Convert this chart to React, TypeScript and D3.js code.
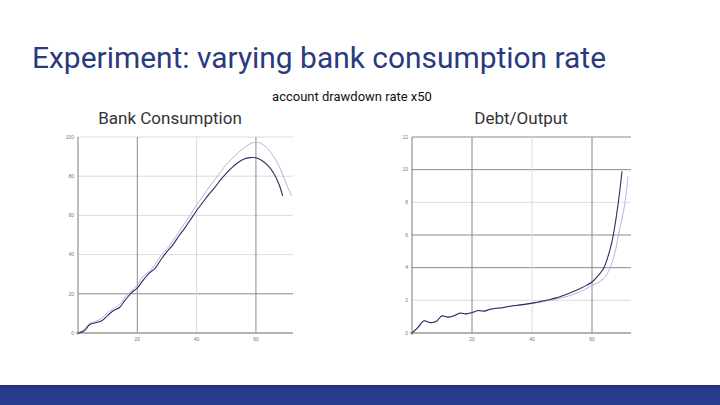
import * as d3 from "d3";
import React, { useEffect, useRef } from "react";

// Bank Consumption (left chart)
const bankStepsDark = [0, 2, 4, 6, 8, 10, 12, 14, 16, 18, 20, 22, 24, 26, 28, 30, 32, 34, 36, 38, 40, 42, 44, 46, 48, 50, 52, 54, 56, 58, 60, 62, 64, 66, 68, 69];
const bankDark = [0, 1, 4.3, 5.2, 6.2, 9, 11.5, 13, 17, 20.5, 23, 27, 30.5, 33, 37.5, 41.5, 45, 49.5, 53.5, 58, 62.5, 66.5, 70.5, 74, 78, 81.5, 84.5, 87, 88.8, 89.5, 89.4, 88, 85.5, 81.5, 75, 70];
const bankStepsLight = [0, 2, 4, 6, 8, 10, 12, 14, 16, 18, 20, 22, 24, 26, 28, 30, 32, 34, 36, 38, 40, 42, 44, 46, 48, 50, 52, 54, 56, 58, 60, 62, 64, 66, 68, 70, 72];
const bankLight = [0, 1.8, 5, 6, 7.5, 10.5, 12.5, 14.5, 18.5, 21.5, 24.5, 29, 31.5, 35, 39.5, 43, 47, 51.5, 56, 60.5, 65.5, 69.5, 74, 78, 82, 86, 89, 92, 94.5, 96.5, 97.3, 96.5, 94, 90, 84.5, 77, 70];
const bankXTicks = [20, 40, 60];
const bankYTicks = [0, 20, 40, 60, 80, 100];

// Debt/Output (right chart)
const debtStepsDark = [0, 2, 4, 6, 8, 10, 12, 14, 16, 18, 20, 22, 24, 26, 28, 30, 32, 34, 36, 38, 40, 42, 44, 46, 48, 50, 52, 54, 56, 58, 60, 62, 64, 65, 66, 67, 68, 69, 70];
const debtDark = [0, 0.35, 0.75, 0.64, 0.7, 1.05, 0.97, 1.05, 1.22, 1.17, 1.25, 1.38, 1.34, 1.45, 1.52, 1.55, 1.62, 1.68, 1.72, 1.77, 1.83, 1.9, 1.97, 2.05, 2.15, 2.27, 2.4, 2.55, 2.72, 2.9, 3.12, 3.5, 4.0, 4.5, 5.1, 5.9, 7.0, 8.3, 9.9];
const debtStepsLight = [0, 2, 4, 6, 8, 10, 12, 14, 16, 18, 20, 22, 24, 26, 28, 30, 32, 34, 36, 38, 40, 42, 44, 46, 48, 50, 52, 54, 56, 58, 60, 62, 64, 65, 66, 67, 68, 69, 70, 71, 72];
const debtLight = [0, 0.34, 0.73, 0.63, 0.69, 1.03, 0.96, 1.04, 1.2, 1.16, 1.24, 1.36, 1.33, 1.44, 1.5, 1.54, 1.6, 1.66, 1.7, 1.75, 1.81, 1.87, 1.93, 1.99, 2.07, 2.16, 2.26, 2.38, 2.52, 2.7, 2.92, 3.08, 3.35, 3.6, 3.95, 4.5, 5.2, 6.2, 7.0, 8.0, 9.6];
const debtXTicks = [20, 40, 60];
const debtYTicks = [0, 2, 4, 6, 8, 10, 12];

const NAVY = "#2b3a7e";

interface Panel {
  stepsDark: number[];
  dark: number[];
  stepsLight: number[];
  light: number[];
  xTicks: number[];
  yTicks: number[];
  xMax: number;
  yMax: number;
  left: number;
  right: number;
  darkX: number[];
  darkY: number[];
}

function drawPanel(svg: d3.Selection<SVGSVGElement, unknown, null, undefined>, p: Panel) {
  const top = 137, bottom = 333;
  const x = d3.scaleLinear().domain([0, p.xMax]).range([p.left, p.right]);
  const y = d3.scaleLinear().domain([0, p.yMax]).range([bottom, top]);
  const g = svg.append("g");

  // horizontal grid
  g.selectAll(".hg")
    .data(p.yTicks.filter(t => t > 0))
    .join("line")
    .attr("x1", x(0)).attr("x2", x(p.xMax))
    .attr("y1", d => y(d)).attr("y2", d => y(d))
    .attr("stroke", d => p.darkY.includes(d) ? "#8a8a8a" : "#dcdcdc")
    .attr("stroke-width", 1);

  // vertical grid
  g.selectAll(".vg")
    .data(p.xTicks)
    .join("line")
    .attr("x1", d => x(d)).attr("x2", d => x(d))
    .attr("y1", y(p.yMax)).attr("y2", bottom)
    .attr("stroke", d => p.darkX.includes(d) ? "#8a8a8a" : "#dcdcdc")
    .attr("stroke-width", 1);

  // axes
  g.append("line")
    .attr("x1", x(0)).attr("x2", x(0)).attr("y1", y(p.yMax)).attr("y2", bottom + 2)
    .attr("stroke", "#7a7a7a").attr("stroke-width", 1);
  g.append("line")
    .attr("x1", x(0) - 2).attr("x2", x(p.xMax)).attr("y1", bottom).attr("y2", bottom)
    .attr("stroke", "#9a9a9a").attr("stroke-width", 1.6);

  // tick labels
  g.selectAll(".yl")
    .data(p.yTicks)
    .join("text")
    .attr("x", x(0) - 4).attr("y", d => y(d) + 1.7)
    .attr("text-anchor", "end")
    .attr("font-size", 5)
    .attr("font-family", "Arial, 'Liberation Sans', sans-serif")
    .attr("fill", "#777")
    .text(d => d);
  g.selectAll(".xl")
    .data(p.xTicks)
    .join("text")
    .attr("x", d => x(d)).attr("y", bottom + 7.5)
    .attr("text-anchor", "middle")
    .attr("font-size", 5)
    .attr("font-family", "Arial, 'Liberation Sans', sans-serif")
    .attr("fill", "#777")
    .text(d => d);

  const line = d3.line<[number, number]>()
    .x(d => x(d[0]))
    .y(d => y(d[1]))
    .curve(d3.curveCatmullRom);

  g.append("path")
    .attr("d", line(p.stepsLight.map((s, i) => [s, p.light[i]] as [number, number])))
    .attr("fill", "none")
    .attr("stroke", "#b4b4e0")
    .attr("stroke-width", 1);
  g.append("path")
    .attr("d", line(p.stepsDark.map((s, i) => [s, p.dark[i]] as [number, number])))
    .attr("fill", "none")
    .attr("stroke", "#2e2e66")
    .attr("stroke-width", 1.1);
}

export default function App() {
  const ref = useRef<SVGSVGElement | null>(null);

  useEffect(() => {
    if (!ref.current) return;
    const svg = d3.select(ref.current);
    svg.selectAll("*").remove();

    svg.append("rect").attr("width", 720).attr("height", 405).attr("fill", "#fff");

    svg.append("text")
      .attr("x", 32).attr("y", 68)
      .attr("font-family", "Roboto, sans-serif")
      .attr("font-size", 30)
      .attr("fill", NAVY)
      .attr("textLength", 574)
      .attr("lengthAdjust", "spacingAndGlyphs")
      .text("Experiment: varying bank consumption rate");

    svg.append("text")
      .attr("x", 352).attr("y", 101)
      .attr("text-anchor", "middle")
      .attr("font-family", "Roboto, sans-serif")
      .attr("font-size", 13)
      .attr("fill", "#111")
      .text("account drawdown rate x50");

    svg.append("text")
      .attr("x", 170).attr("y", 124)
      .attr("text-anchor", "middle")
      .attr("font-family", "Roboto, sans-serif")
      .attr("font-size", 17)
      .attr("fill", "#333")
      .text("Bank Consumption");

    svg.append("text")
      .attr("x", 521).attr("y", 124)
      .attr("text-anchor", "middle")
      .attr("font-family", "Roboto, sans-serif")
      .attr("font-size", 17)
      .attr("fill", "#333")
      .text("Debt/Output");

    drawPanel(svg, {
      stepsDark: bankStepsDark, dark: bankDark,
      stepsLight: bankStepsLight, light: bankLight,
      xTicks: bankXTicks, yTicks: bankYTicks,
      xMax: 72.5, yMax: 100, left: 78, right: 293,
      darkX: [20, 60], darkY: [20],
    });

    drawPanel(svg, {
      stepsDark: debtStepsDark, dark: debtDark,
      stepsLight: debtStepsLight, light: debtLight,
      xTicks: debtXTicks, yTicks: debtYTicks,
      xMax: 73, yMax: 12, left: 412, right: 631,
      darkX: [20, 60], darkY: [4, 6, 10, 12],
    });

    // footer bar
    svg.append("rect").attr("x", 0).attr("y", 385).attr("width", 720).attr("height", 20).attr("fill", "#283a8c");
    svg.append("rect").attr("x", 0).attr("y", 385).attr("width", 720).attr("height", 2).attr("fill", "#263373");
  }, []);

  return (
    <svg ref={ref} width={720} height={405}
      style={{ position: "absolute", left: 0, top: 0, display: "block" }} />
  );
}
